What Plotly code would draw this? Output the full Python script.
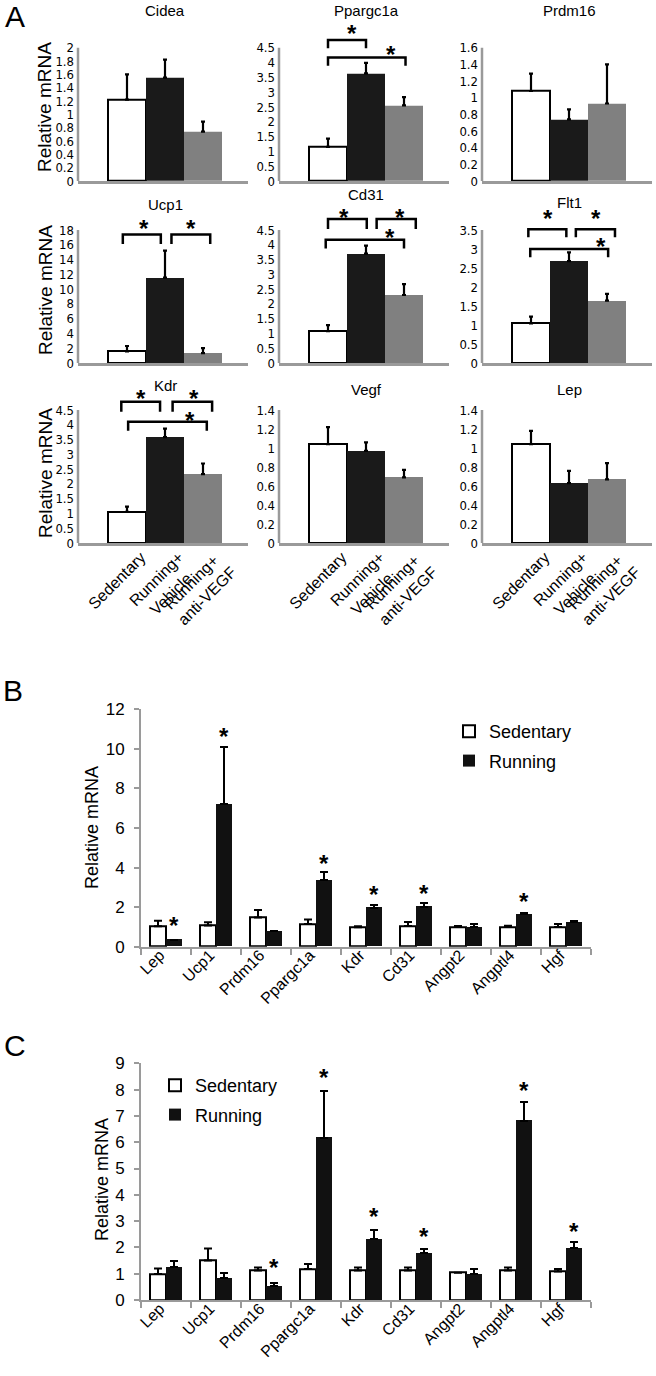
import plotly.graph_objects as go
import numpy as np

W, H = 656, 1376

# ---------------- Panel A data ----------------
a_genes = ["Cidea", "Ppargc1a", "Prdm16", "Ucp1", "Cd31", "Flt1", "Kdr", "Vegf", "Lep"]
a_groups = ["Sedentary", "Running+<br>Vehicle\u00a0\u00a0", "Running+\u00a0<br>anti-VEGF"]
a_sed = [1.22, 1.15, 1.08, 1.56, 1.08, 1.04, 1.05, 1.04, 1.04]
a_sed_err = [0.38, 0.28, 0.21, 0.74, 0.20, 0.18, 0.18, 0.18, 0.14]
a_veh = [1.55, 3.63, 0.74, 11.56, 3.70, 2.68, 3.58, 0.97, 0.63]
a_veh_err = [0.27, 0.36, 0.12, 3.64, 0.27, 0.23, 0.29, 0.09, 0.13]
a_anti = [0.74, 2.55, 0.93, 1.33, 2.30, 1.64, 2.33, 0.69, 0.67]
a_anti_err = [0.15, 0.28, 0.47, 0.67, 0.37, 0.18, 0.36, 0.08, 0.17]
a_ymax = [2, 4.5, 1.6, 18, 4.5, 3.5, 4.5, 1.4, 1.4]
a_dtick = [0.2, 0.5, 0.2, 2, 0.5, 0.5, 0.5, 0.2, 0.2]

# significance brackets: (x0, x1, line level, leg bottom, star x, star y)
a_brackets = {
    "Ppargc1a": [(0, 1, 4.76, 4.48, 0.62, 5.15), (0, 2.04, 4.17, 3.89, 1.67, 4.44)],
    "Ucp1": [(-0.11, 0.89, 17.4, 16.1, 0.44, 18.9), (1.17, 2.19, 17.4, 16.1, 1.69, 18.9)],
    "Cd31": [(0, 1.02, 4.87, 4.53, 0.42, 5.1), (1.28, 2.31, 4.87, 4.53, 1.9, 5.1),
             (-0.06, 2.0, 4.17, 3.87, 1.64, 4.42)],
    "Flt1": [(-0.07, 0.93, 3.52, 3.31, 0.44, 3.94), (1.18, 2.21, 3.52, 3.31, 1.7, 3.94),
             (-0.02, 2.03, 3.0, 2.78, 1.84, 3.21)],
    "Kdr": [(-0.15, 0.87, 4.78, 4.44, 0.38, 5.06), (1.2, 2.24, 4.78, 4.44, 1.76, 5.06),
            (0.03, 2.1, 4.1, 3.8, 1.66, 4.33)],
}

# ---------------- Panel B data ----------------
b_genes = ["Lep", "Ucp1", "Prdm16", "Ppargc1a", "Kdr", "Cd31", "Angpt2", "Angptl4", "Hgf"]
b_sed = [1.04, 1.07, 1.47, 1.15, 0.98, 1.05, 1.00, 1.00, 1.00]
b_sed_err = [0.27, 0.16, 0.38, 0.23, 0.06, 0.20, 0.05, 0.06, 0.15]
b_run = [0.36, 7.20, 0.78, 3.37, 1.97, 2.02, 1.00, 1.64, 1.23]
b_run_err = [0.0, 2.91, 0.03, 0.39, 0.14, 0.17, 0.13, 0.05, 0.07]
b_star = [1.31, 10.87, None, 4.47, 2.9, 2.95, None, 2.53, None]

# ---------------- Panel C data ----------------
c_genes = ["Lep", "Ucp1", "Prdm16", "Ppargc1a", "Kdr", "Cd31", "Angpt2", "Angptl4", "Hgf"]
c_sed = [0.99, 1.50, 1.12, 1.18, 1.12, 1.12, 1.04, 1.12, 1.08]
c_sed_err = [0.21, 0.46, 0.12, 0.19, 0.12, 0.12, 0.0, 0.12, 0.10]
c_run = [1.24, 0.82, 0.54, 6.17, 2.32, 1.77, 0.99, 6.82, 1.96]
c_run_err = [0.26, 0.19, 0.09, 1.78, 0.34, 0.18, 0.19, 0.72, 0.26]
c_star = [None, None, 1.43, 8.66, 3.36, 2.59, None, 8.15, 2.79]

series_names = ["Sedentary", "Running"]

# ---------------- layout helpers ----------------
def fx(p):
    return p / W

def fy(p):
    return 1 - p / H

ARIAL = "Liberation Sans, Arial, sans-serif"
NARROW = "Liberation Sans Narrow, Arial Narrow, DejaVu Sans Condensed, Liberation Sans, sans-serif"
AXIS_GREY = "#9a9a9a"

fig = go.Figure()
layout = dict(
    width=W, height=H, margin=dict(l=0, r=0, t=0, b=0, pad=0, autoexpand=False),
    paper_bgcolor="white", plot_bgcolor="white",
    font=dict(family=ARIAL, color="black"),
)
shapes = []
annotations = []

col_left = [78, 279, 482]
col_w = 170
row_base = [181, 363, 543]
row_top = [47.7, 230, 410]
top_pad = 22
bar_px = 38
first_off = 30
x_r0 = -0.5 - first_off / bar_px
x_r1 = x_r0 + col_w / bar_px
title_y = [11, 11, 11, 205, 195, 202, 386, 389, 389]
ytitle_y = [107, 290, 473]

a_fill = ["#ffffff", "#1a1a1a", "#808080"]
a_line = ["#000000", "#1a1a1a", "#808080"]

for k, gene in enumerate(a_genes):
    r, c = divmod(k, 3)
    n = k + 1
    xa = "x" if n == 1 else f"x{n}"
    ya = "y" if n == 1 else f"y{n}"
    vals = [a_sed[k], a_veh[k], a_anti[k]]
    errs = [a_sed_err[k], a_veh_err[k], a_anti_err[k]]
    fig.add_trace(go.Bar(
        x=[0, 1, 2], y=vals, width=1,
        marker=dict(color=a_fill, line=dict(color=a_line, width=[2, 0, 0])),
        error_y=dict(type="data", array=errs, arrayminus=[0, 0, 0], symmetric=False,
                     color="black", thickness=2.2, width=2),
        xaxis=xa, yaxis=ya, showlegend=False, hoverinfo="skip",
    ))
    yb, yt = row_base[r], row_top[r]
    ytop_px = yt - top_pad
    ymax = a_ymax[k]
    rng_top = ymax * (yb - ytop_px) / (yb - yt)
    tv = [round(v, 2) for v in np.arange(0, ymax + 1e-9, a_dtick[k])]
    xkey = "xaxis" if n == 1 else f"xaxis{n}"
    ykey = "yaxis" if n == 1 else f"yaxis{n}"
    layout[xkey] = dict(
        domain=[fx(col_left[c]), fx(col_left[c] + col_w)], range=[x_r0, x_r1],
        anchor=ya, showline=True, linecolor=AXIS_GREY, linewidth=2.5,
        showgrid=False, zeroline=False, ticks="",
        tickmode="array", tickvals=[0, 1, 2], ticktext=a_groups,
        showticklabels=(r == 2), tickangle=-45, ticklabelshift=14, ticklabelstandoff=-4,
        tickfont=dict(family=ARIAL, size=16, color="black"),
    )
    layout[ykey] = dict(
        domain=[fy(yb), fy(ytop_px)], range=[0, rng_top], anchor=xa,
        showline=False, showgrid=False, zeroline=False, ticks="",
        tickmode="array", tickvals=tv,
        tickfont=dict(family=NARROW, size=13, color="black"),
        ticklabelstandoff=3,
    )
    # y axis line only up to the top tick
    shapes.append(dict(type="line", xref=f"{xa} domain", yref=ya, x0=0, x1=0, y0=0, y1=ymax,
                       line=dict(color=AXIS_GREY, width=2.5), layer="above"))
    # subplot title
    annotations.append(dict(text=gene, xref=xa, x=1, yref="paper", y=fy(title_y[k]),
                            showarrow=False, font=dict(family=ARIAL, size=15),
                            xanchor="center", yanchor="middle"))
    for (x0, x1, yl, yleg, sx, sy) in a_brackets.get(gene, []):
        shapes.append(dict(type="path", xref=xa, yref=ya,
                           path=f"M {x0},{yleg} L {x0},{yl} L {x1},{yl} L {x1},{yleg}",
                           line=dict(color="black", width=2.5), layer="above"))
        annotations.append(dict(text="<b>*</b>", xref=xa, yref=ya, x=sx, y=sy, showarrow=False,
                                font=dict(family=ARIAL, size=24), xanchor="center",
                                yanchor="middle", yshift=-5))

for r in range(3):
    annotations.append(dict(text="Relative mRNA", xref="paper", yref="paper", x=fx(45),
                            y=fy(ytitle_y[r]), textangle=-90, showarrow=False,
                            font=dict(family=ARIAL, size=19), xanchor="center", yanchor="middle"))

# ---------------- Panels B and C ----------------
BC_LEFT, BC_RIGHT = 141, 591

def add_pair(idx, genes, sed, sed_err, run, run_err, stars, base_px, top_px, ymax, dtick,
             legend_name, legend_x, legend_y, ytitle_x, ytitle_y):
    xa, ya = f"x{idx}", f"y{idx}"
    pos = list(range(len(genes)))
    fig.add_trace(go.Bar(
        x=pos, y=sed, offset=-0.32, width=0.32, name=series_names[0],
        marker=dict(color="white", line=dict(color="black", width=2)),
        error_y=dict(type="data", array=sed_err, arrayminus=[0] * len(sed), symmetric=False,
                     color="black", thickness=2, width=4),
        xaxis=xa, yaxis=ya, legend=legend_name, legendgroup=f"s{idx}", hoverinfo="skip",
    ))
    fig.add_trace(go.Bar(
        x=pos, y=run, offset=0, width=0.32, name=series_names[1],
        marker=dict(color="#111111", line=dict(color="#111111", width=0)),
        error_y=dict(type="data", array=run_err, arrayminus=[0] * len(run), symmetric=False,
                     color="black", thickness=2, width=4),
        xaxis=xa, yaxis=ya, legend=legend_name, legendgroup=f"r{idx}", hoverinfo="skip",
    ))
    layout[f"xaxis{idx}"] = dict(
        domain=[fx(BC_LEFT), fx(BC_RIGHT)], range=[-0.5, len(genes) - 0.5], anchor=ya,
        type="linear", showline=True, linecolor=AXIS_GREY, linewidth=2,
        tickmode="array", tickvals=pos, ticktext=genes, ticks="",
        tickangle=-45, ticklabelstandoff=-9, ticklabelshift=-6,
        tickfont=dict(family=ARIAL, size=16, color="black"),
        minor=dict(tick0=-0.5, dtick=1, ticks="outside", ticklen=6,
                   tickcolor=AXIS_GREY, tickwidth=2, showgrid=False),
        showgrid=False, zeroline=False,
    )
    layout[f"yaxis{idx}"] = dict(
        domain=[fy(base_px), fy(top_px)], range=[0, ymax], dtick=dtick, anchor=xa,
        showline=True, linecolor=AXIS_GREY, linewidth=2, ticks="outside", ticklen=5,
        tickcolor=AXIS_GREY, tickwidth=2, showgrid=False, zeroline=False,
        tickfont=dict(family=ARIAL, size=17, color="black"), ticklabelstandoff=6,
    )
    for i, s in enumerate(stars):
        if s is None:
            continue
        annotations.append(dict(text="<b>*</b>", xref=xa, yref=ya, x=i + 0.16, y=s,
                                showarrow=False, font=dict(family=ARIAL, size=24),
                                xanchor="center", yanchor="middle", yshift=-5))
    annotations.append(dict(text="Relative mRNA", xref="paper", yref="paper", x=fx(ytitle_x),
                            y=fy(ytitle_y), textangle=-90, showarrow=False,
                            font=dict(family=ARIAL, size=18), xanchor="center", yanchor="middle"))
    layout[legend_name] = dict(
        x=fx(legend_x), y=fy(legend_y), xanchor="left", yanchor="top",
        bgcolor="rgba(0,0,0,0)", font=dict(family=ARIAL, size=18, color="black"),
        itemclick=False, itemdoubleclick=False, traceorder="grouped", tracegroupgap=3,
    )

add_pair(10, b_genes, b_sed, b_sed_err, b_run, b_run_err, b_star, 946.7, 709.3, 12, 2,
         "legend", 449, 713, 92, 828)
add_pair(11, c_genes, c_sed, c_sed_err, c_run, c_run_err, c_star, 1300, 1063.3, 9, 1,
         "legend2", 155, 1067, 102, 1180)

# panel letters
for letter, (lx, ly) in {"A": (15, 16), "B": (13, 690), "C": (15, 1045)}.items():
    annotations.append(dict(text=letter, xref="paper", yref="paper", x=fx(lx), y=fy(ly),
                            showarrow=False, font=dict(family=ARIAL, size=30),
                            xanchor="center", yanchor="middle"))

layout["shapes"] = shapes
layout["annotations"] = annotations
layout["bargap"] = 0
fig.update_layout(**layout)
fig.write_html("out.html", config={"displayModeBar": False},
               post_script="document.body.style.margin='0px';")
